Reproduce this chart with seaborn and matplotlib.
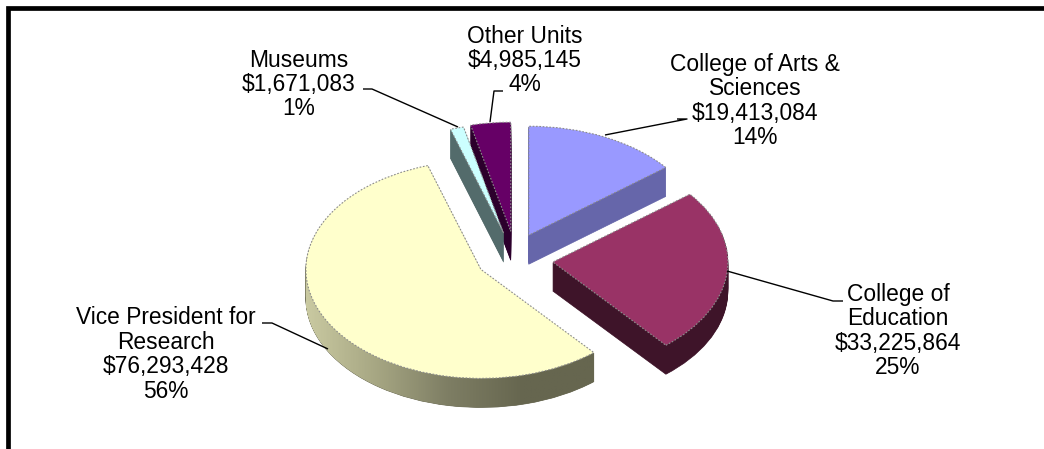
import numpy as np
import matplotlib
matplotlib.use("Agg")
import matplotlib.pyplot as plt
import seaborn as sns
from matplotlib.path import Path

# data, clockwise from 12 o'clock
units = ["College of Arts &\nSciences", "College of\nEducation", "Vice President for\nResearch", "Museums", "Other Units"]
amounts = [19413084, 33225864, 76293428, 1671083, 4985145]
percents = [14, 25, 56, 1, 4]

# styling of the slices
top_colors = ["#9999FF", "#993366", "#FFFFCC", "#CCFFFF", "#660066"]
side_colors = ["#6666AA", "#3E1429", "#66664F", "#536B6B", "#2C002C"]
wall_gradient = ["#CFCFA6", "#A9A985", "#7E7E64", "#66664F", "#66664F"]
explode = [0.246, 0.246, 0.19, 0.25, 0.26]
nudge_x = [0, 0, 0, 0.03, 0.034]

# label placement in image pixels
label_x = [755, 898, 166, 299, 525]
label_y = [101, 331, 354.5, 84.5, 60.5]
leaders_x = [[677, 687, 605], [843, 833, 727], [262, 272, 328], [363, 372, 458], [503, 494, 490]]
leaders_y = [[119, 119, 135], [301, 301, 271], [323, 323, 349], [89, 89, 127], [91, 91, 122]]

WIDTH, HEIGHT = 1044, 449
CX, CY, RX, RY = 510, 259.4, 175, 109
DEPTH = 29

sns.set_theme(style="white")
plt.rcParams["font.family"] = ["Liberation Sans", "DejaVu Sans"]

fig = plt.figure(figsize=(WIDTH / 100, HEIGHT / 100), dpi=100, facecolor="white")

# pie axes: one data unit is one radius, squashed to look tilted
ax = fig.add_axes([0, 0, 1, 1])


def draw_pie(colors, drop, zorder):
    wedges, _ = ax.pie(amounts, explode=explode, colors=colors, startangle=90, counterclock=False,
                       center=(0, -drop), radius=1, normalize=True)
    for w, dx in zip(wedges, nudge_x):
        w.set_center((w.center[0] + dx, w.center[1]))
        w.set_zorder(zorder)
        w.set_linewidth(0)
    return wedges


# stacked layers make the side wall
yellow_paths = []
for px_down in np.arange(DEPTH, 0, -1):
    layer = draw_pie(side_colors, px_down / RY, 1)
    for w in layer:
        w.set_edgecolor(w.get_facecolor())
        w.set_linewidth(0.5)
    yellow_paths.append(layer[2].get_path().transformed(layer[2].get_patch_transform()))

# shading along the yellow wall
wall_cmap = sns.blend_palette(wall_gradient, as_cmap=True)
shade = ax.imshow(np.linspace(0, 1, 256).reshape(1, -1), cmap=wall_cmap, aspect="auto", zorder=1.5,
                  extent=[(295 - CX) / RX, (600 - CX) / RX, -1.5, 0.5])
shade.set_clip_path(Path.make_compound_path(*yellow_paths), transform=ax.transData)

top = draw_pie(top_colors, 0, 2)
for w in top:
    w.set_edgecolor("#8C8C8C")
    w.set_linewidth(0.8)
    w.set_linestyle((0, (1.5, 1.5)))

ax.set_aspect("auto")
ax.set_xlim(-CX / RX, (WIDTH - CX) / RX)
ax.set_ylim((CY - HEIGHT) / RY, CY / RY)
ax.axis("off")

# overlay in image pixels for labels, leader lines and the frame
ax_px = fig.add_axes([0, 0, 1, 1], facecolor="none")
ax_px.set_xlim(0, WIDTH)
ax_px.set_ylim(HEIGHT, 0)
ax_px.axis("off")

for unit, amount, pct, x, y in zip(units, amounts, percents, label_x, label_y):
    ax_px.text(x, y, f"{unit}\n${amount:,}\n{pct}%", ha="center", va="center", ma="center",
               fontsize=16.4, color="black", linespacing=1.08)

for xs, ys in zip(leaders_x, leaders_y):
    ax_px.plot(xs, ys, color="black", lw=1.0, solid_capstyle="butt")

ax_px.plot([7.5, 7.5, WIDTH], [HEIGHT, 8, 8], color="black", lw=3.4, solid_joinstyle="miter", solid_capstyle="butt")

fig.savefig("out.png", dpi=100)
